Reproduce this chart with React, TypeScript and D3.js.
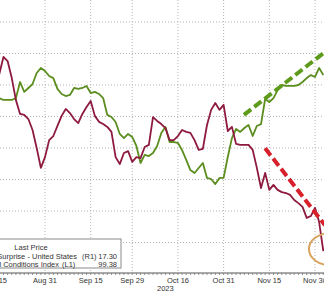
import React from "react";
import * as d3 from "d3";

// Business days (weekdays) shown on the axis, Aug 15 2023 .. Dec 4 2023
const startDate = "2023-08-15";
const endDate = "2023-12-04";

// Citi Economic Surprise - United States (R1), one value per business day
const surpriseValues = [
  70.0, 73.5, 78.9, 77.6, 72.2, 65.2, 60.8, 60.5, 59.2, 55.7, 50.0, 43.7,
  47.1, 52.5, 53.8, 57.0, 60.2, 62.4, 61.1, 59.2, 57.9, 60.8, 63.0, 64.9,
  60.2, 58.3, 57.6, 56.7, 55.1, 47.1, 44.9, 48.4, 49.0, 45.6, 47.1, 46.8,
  50.3, 51.0, 59.8, 58.6, 57.6, 56.3, 52.5, 52.5, 53.8, 55.7, 55.1, 54.8,
  52.5, 49.4, 49.7, 57.3, 62.1, 64.3, 62.1, 63.7, 55.4, 56.7, 51.3, 51.0,
  51.0, 51.0, 49.4, 43.7, 37.3, 42.1, 36.7, 38.3, 36.7, 36.0, 35.7, 35.1,
  33.5, 32.5, 31.3, 27.8, 28.4, 31.0, 26.5, 17.3,
];

// Financial Conditions Index (L1), one value per business day
const fciValues = [
  99.47, 99.483, 99.495, 99.495, 99.495, 99.483, 99.381, 99.444, 99.419, 99.394, 99.324, 99.292,
  99.311, 99.343, 99.356, 99.425, 99.457, 99.47, 99.463, 99.419, 99.425, 99.419, 99.406, 99.451,
  99.444, 99.457, 99.483, 99.59, 99.603, 99.635, 99.711, 99.737, 99.711, 99.73, 99.787, 99.895,
  99.844, 99.851, 99.832, 99.787, 99.705, 99.667, 99.762, 99.762, 99.768, 99.813, 99.876, 99.94,
  99.959, 99.927, 99.895, 99.99, 99.997, 100.029, 99.99, 99.99, 99.857, 99.737, 99.679, 99.698,
  99.673, 99.654, 99.724, 99.66, 99.648, 99.489, 99.508, 99.483, 99.432, 99.4, 99.406, 99.406,
  99.406, 99.4, 99.381, 99.356, 99.337, 99.349, 99.292, 99.337,
];

const tickDates = ["2023-08-15", "2023-08-31", "2023-09-15", "2023-09-29", "2023-10-16", "2023-10-31", "2023-11-15", "2023-11-30"];
const tickLabels = ["Aug 15", "Aug 31", "Sep 15", "Sep 29", "Oct 16", "Oct 31", "Nov 15", "Nov 30"];
const gridValues = [99.0, 99.2, 99.4, 99.6, 99.8, 100.0, 100.2, 100.4];

const legendNames = ["Citi Economic Surprise - United States", "Financial Conditions Index"];
const legendAxes = ["(R1)", "(L1)"];
const legendLast = ["17.30", "99.38"];

// annotations in data units: [business-day index, value]
const greenTrend = [[59.9, 99.59], [79.4, 99.19]];
const redTrend = [[65.0, 49.9], [79.4, 25.5]];
const circleAt = [80.6, 17.9];

const W = 324;
const H = 291;

export default function App() {
  const parse = d3.timeParse("%Y-%m-%d");
  const fmt = d3.timeFormat("%Y-%m-%d");
  const days = d3.timeDay
    .range(parse(startDate)!, d3.timeDay.offset(parse(endDate)!, 1))
    .filter((d) => d.getDay() !== 0 && d.getDay() !== 6)
    .map(fmt);

  const iAug31 = days.indexOf("2023-08-31");
  const iNov30 = days.indexOf("2023-11-30");
  const x = d3.scaleLinear().domain([iAug31, iNov30]).range([45, 315]);
  const yL = d3.scaleLinear().domain([99.0, 100.4]).range([22, 242.5]);
  const yR = d3.scaleLinear().domain([20, 90]).range([242.5, 22]);

  const axisY = 273;

  const lineL = d3
    .line<number>()
    .x((_, i) => x(i))
    .y((v) => yL(v));
  const lineR = d3
    .line<number>()
    .x((_, i) => x(i))
    .y((v) => yR(v));

  const green = "#5b8d1f";
  const maroon = "#8e1a3e";
  const font = "'Liberation Sans', Arial, sans-serif";

  return (
    <div style={{ position: "absolute", left: 0, top: 0, width: W, height: H, background: "#fff" }}>
      <svg width={W} height={H} style={{ display: "block" }}>
        <rect width={W} height={H} fill="#fff" />
        {/* grid */}
        {gridValues.map((g) => (
          <line key={"h" + g} x1={0} x2={W} y1={yL(g)} y2={yL(g)} stroke="#b4b4b4" strokeWidth={1} strokeDasharray="1,2" />
        ))}
        {tickDates.map((d) => (
          <line key={"v" + d} x1={x(days.indexOf(d))} x2={x(days.indexOf(d))} y1={0} y2={axisY} stroke="#b4b4b4" strokeWidth={1} strokeDasharray="1,2" />
        ))}
        {/* series */}
        <path d={lineL(fciValues)!} fill="none" stroke={green} strokeWidth={1.8} strokeLinejoin="round" />
        <path d={lineR(surpriseValues)!} fill="none" stroke={maroon} strokeWidth={1.8} strokeLinejoin="round" />
        {/* annotations */}
        <line
          x1={x(greenTrend[0][0])}
          y1={yL(greenTrend[0][1])}
          x2={x(greenTrend[1][0])}
          y2={yL(greenTrend[1][1])}
          stroke="#5e9b1c"
          strokeWidth={4}
          strokeDasharray="9,4"
        />
        <line
          x1={x(redTrend[0][0])}
          y1={yR(redTrend[0][1])}
          x2={x(redTrend[1][0])}
          y2={yR(redTrend[1][1])}
          stroke="#d8202c"
          strokeWidth={4}
          strokeDasharray="9,4"
        />
        <ellipse cx={x(circleAt[0])} cy={yR(circleAt[1])} rx={21} ry={16} fill="none" stroke="#d9a35f" strokeWidth={2} />
        {/* axis */}
        <line x1={0} x2={W} y1={axisY} y2={axisY} stroke="#555" strokeWidth={1} />
        {days.map((d, i) => (
          <line key={"t" + d} x1={x(i)} x2={x(i)} y1={axisY} y2={axisY + 2} stroke="#777" strokeWidth={0.8} />
        ))}
        {tickDates.map((d, k) => (
          <text key={"l" + d} x={x(days.indexOf(d))} y={283} textAnchor="middle" fontFamily={font} fontSize={7.5} fill="#333">
            {tickLabels[k]}
          </text>
        ))}
        <text x={157} y={291} fontFamily={font} fontSize={7.5} fill="#333">
          2023
        </text>
        {/* legend */}
        <rect x={-1} y={239} width={122} height={29} fill="#fff" stroke="#8a8a8a" strokeWidth={1} />
        <text x={31} y={250} textAnchor="middle" fontFamily={font} fontSize={7.5} fill="#333">
          Last Price
        </text>
        {legendNames.map((n, k) => (
          <g key={n}>
            <text x={k === 0 ? 77 : 59} y={259 + k * 7.5} textAnchor="end" fontFamily={font} fontSize={7.5} fill="#333">
              {n}
            </text>
            <text x={k === 0 ? 82 : 62} y={259 + k * 7.5} fontFamily={font} fontSize={7.5} fill="#333">
              {legendAxes[k]}
            </text>
            <text x={117} y={259 + k * 7.5} textAnchor="end" fontFamily={font} fontSize={7.5} fill="#333">
              {legendLast[k]}
            </text>
          </g>
        ))}
      </svg>
    </div>
  );
}
